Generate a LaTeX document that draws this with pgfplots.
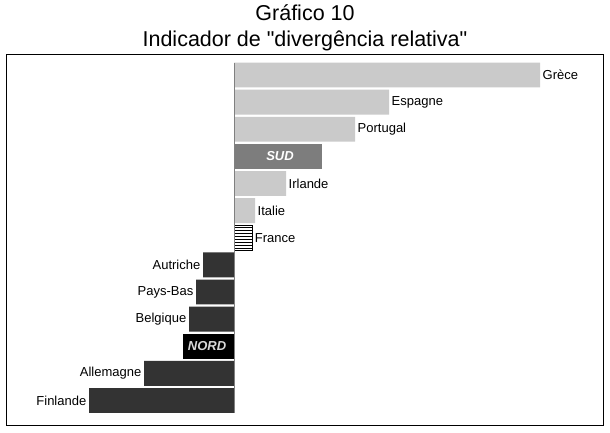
\documentclass[border=0pt]{standalone}
\usepackage{fontspec}
\setmainfont{Liberation Sans}[Ligatures=TeXOff]
\usepackage{pgfplots}
\pgfplotsset{compat=1.18}
\usepackage{pgfplotstable}
\usetikzlibrary{patterns}

\definecolor{stip}{RGB}{202,202,202}
\definecolor{sudc}{RGB}{125,125,125}
\definecolor{nordc}{RGB}{51,51,51}

\pgfplotstableread{
y val name
12 306 Grèce
11 155 Espagne
10 121 Portugal
8 52 Irlande
7 21 Italie
}\southtab

\pgfplotstableread{
y val name
5 -31 Autriche
4 -38 Pays-Bas
3 -45 Belgique
1 -90 Allemagne
0 -145 Finlande
}\northtab

\pgfplotstableread{
y val name
6 18 France
}\francetab

\pgfplotstableread{
y val
9 88
}\sudtab

\pgfplotstableread{
y val
2 -51
}\nordtab

\begin{document}
\begin{tikzpicture}[x=1pt,y=1pt]
\path[use as bounding box] (0,0) rectangle (610,432);
\node[anchor=base, font=\fontsize{21.5}{24}\selectfont] at (305,411) {Gráfico 10};
\node[anchor=base, font=\fontsize{21.5}{24}\selectfont] at (305,385) {Indicador de "divergência relativa"};
\begin{axis}[
  at={(6pt,7pt)}, anchor=south west,
  scale only axis, width=597pt, height=371pt,
  xmin=-228, xmax=369, ymin=-0.903, ymax=12.774,
  xtick=\empty, ytick=\empty,
  axis line style={black, line width=1pt},
  xbar, bar shift=0pt, bar width=0.92,
  nodes near coords={\pgfplotspointmeta},
  point meta=explicit symbolic,
  every node near coord/.append style={font=\fontsize{13}{15}\selectfont, text=black, inner sep=2.5pt},
  clip=false,
]
\addplot[draw=none, fill=stip, bar shift=0pt, every node near coord/.append style={anchor=west}]
  table[x=val, y=y, meta=name] {\southtab};
\addplot[draw=black, line width=0.8pt, pattern=horizontal lines, pattern color=black, bar shift=0pt,
  every node near coord/.append style={anchor=west, xshift=0pt}]
  table[x=val, y=y, meta=name] {\francetab};
\addplot[draw=none, fill=nordc, bar shift=0pt, every node near coord/.append style={anchor=east}]
  table[x=val, y=y, meta=name] {\northtab};
\addplot[draw=none, fill=sudc, bar shift=0pt, nodes near coords=\empty]
  table[x=val, y=y] {\sudtab};
\addplot[draw=none, fill=black, bar shift=0pt, nodes near coords=\empty]
  table[x=val, y=y] {\nordtab};
\draw[gray, line width=1pt] (axis cs:0,-0.46) -- (axis cs:0,12.46);
\node[text=white, font=\fontsize{13}{15}\selectfont\bfseries\itshape] at (axis cs:46,9) {SUD};
\node[text=black!15, font=\fontsize{13}{15}\selectfont\bfseries\itshape] at (axis cs:-27,2) {NORD};
\end{axis}
\end{tikzpicture}
\end{document}
